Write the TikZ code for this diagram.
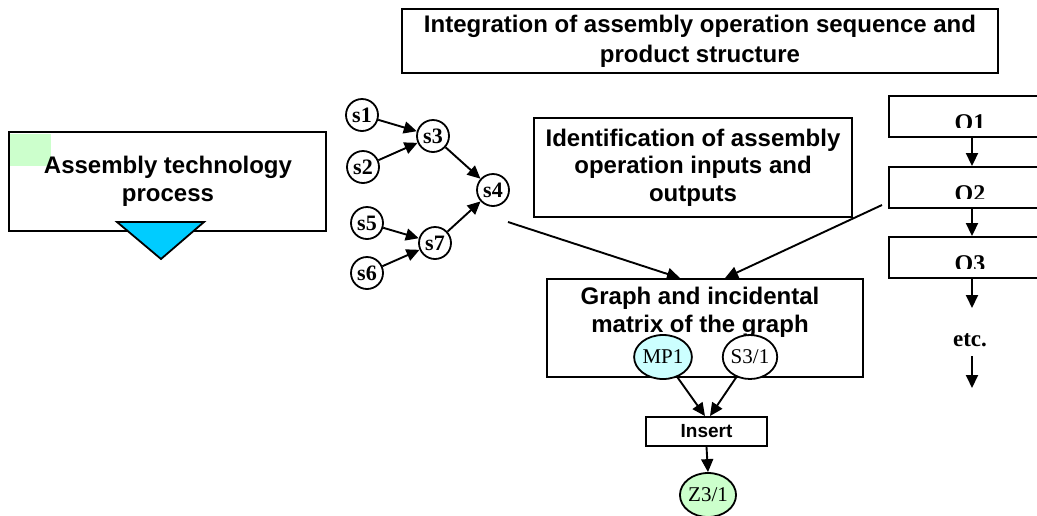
\documentclass[tikz,border=0pt]{standalone}
\usepackage{fontspec}
\setmainfont{Liberation Serif}
\setsansfont{Liberation Sans}
\usetikzlibrary{arrows.meta,shapes.geometric}
\definecolor{lgreen}{HTML}{CCFFCC}
\definecolor{lcyan}{HTML}{CCFFFF}
\definecolor{tricyan}{HTML}{00CCFF}
\begin{document}
\begin{tikzpicture}[x=1pt,y=-1pt,
  box/.style={draw,line width=1.9pt,inner sep=0pt,align=center},
  sanstext/.style={font=\sffamily\bfseries\fontsize{24}{28}\selectfont,align=center},
  snode/.style={draw,circle,line width=1.8pt,inner sep=0pt,minimum size=32pt,font=\bfseries\fontsize{22}{22}\selectfont},
  pnode/.style={draw,ellipse,line width=1.8pt,inner sep=0pt,minimum width=46pt,minimum height=44pt,font=\fontsize{21}{21}\selectfont},
  arr/.style={line width=1.9pt,-{Triangle[length=13pt,width=12pt]}}]
\useasboundingbox (0,0) rectangle (1037,515);
\clip (0,0) rectangle (1037,515);
% top box
\node[box,minimum width=596pt,minimum height=64pt,font=\sffamily\bfseries\fontsize{24}{30}\selectfont] (top) at (700,41) {Integration of assembly operation sequence and\\product structure};
% assembly technology process
\fill[lgreen] (10,134) rectangle (51,166);
\node[box,minimum width=317pt,minimum height=99pt] (atp) at (167.5,181.5) {};
\node[sanstext] (atptext) at (168,181) {Assembly technology\\process};
\draw[line width=1.8pt,fill=tricyan,line join=miter] (117,222) -- (204,222) -- (161,259) -- cycle;
% s graph
\node[snode] (s1) at (362,115) {s1};
\node[snode] (s2) at (363,167) {s2};
\node[snode] (s3) at (433,136) {s3};
\node[snode] (s4) at (493,190) {s4};
\node[snode] (s5) at (367,223) {s5};
\node[snode] (s6) at (367,273) {s6};
\node[snode] (s7) at (435,243) {s7};
\draw[arr] (s1) -- (s3);
\draw[arr] (s2) -- (s3);
\draw[arr] (s3) -- (s4);
\draw[arr] (s5) -- (s7);
\draw[arr] (s6) -- (s7);
\draw[arr] (s7) -- (s4);
% identification box
\node[box,minimum width=318pt,minimum height=99pt,font=\sffamily\bfseries\fontsize{24}{27.5}\selectfont] (ident) at (693,167.5) {Identification of assembly\\operation inputs and\\outputs};
% O boxes
\node[box,minimum width=163pt,minimum height=41pt] (o1) at (970.5,116.5) {};
\node[box,minimum width=163pt,minimum height=41pt] (o2) at (970.5,187.5) {};
\node[box,minimum width=163pt,minimum height=41pt] (o3) at (970.5,257.5) {};
\begin{scope}
\clip (890,97) rectangle (1037,127);
\node[font=\bfseries\fontsize{24}{24}\selectfont] (o1t) at (970,123) {O1};
\end{scope}
\begin{scope}
\clip (890,168) rectangle (1037,198);
\node[font=\bfseries\fontsize{24}{24}\selectfont] (o2t) at (970,194) {O2};
\end{scope}
\begin{scope}
\clip (890,238) rectangle (1037,268);
\node[font=\bfseries\fontsize{24}{24}\selectfont] (o3t) at (970,264) {O3};
\end{scope}
\draw[arr] (o1.south -| 972,0) -- (o2.north -| 972,0);
\draw[arr] (o2.south -| 972,0) -- (o3.north -| 972,0);
\coordinate (o3end) at (972,308);
\draw[arr] (o3.south -| 972,0) -- (o3end);
\node[font=\bfseries\fontsize{23}{23}\selectfont] (etc) at (970,340) {etc.};
\coordinate (etca) at (972,356);
\coordinate (etcb) at (972,388);
\draw[arr] (etca) -- (etcb);
% graph box
\node[box,minimum width=316pt,minimum height=98pt] (graph) at (705,328) {};
\node[sanstext] (graphtext) at (700,312) {Graph and incidental\\matrix of the graph};
\node[pnode,fill=lcyan] (mp1) at (663,357) {MP1};
\node[pnode,fill=white] (s31) at (750,357) {S3/1};
% long connectors
\coordinate (fromS) at (508,222);
\coordinate (fromO) at (882,205);
\draw[arr] (fromS) -- (graph.north -| 680,0);
\draw[arr] (fromO) -- (graph.north -| 725,0);
% insert
\node[box,minimum width=121pt,minimum height=29pt,font=\sffamily\bfseries\fontsize{19}{19}\selectfont] (insert) at (706.5,431.5) {Insert};
\draw[arr] (mp1) -- (insert.north -| 705,0);
\draw[arr] (s31) -- (insert.north -| 710,0);
\node[pnode,fill=lgreen] (z31) at (708,495) {Z3/1};
\draw[arr] (insert.south) -- (z31.north);
\end{tikzpicture}
\end{document}
